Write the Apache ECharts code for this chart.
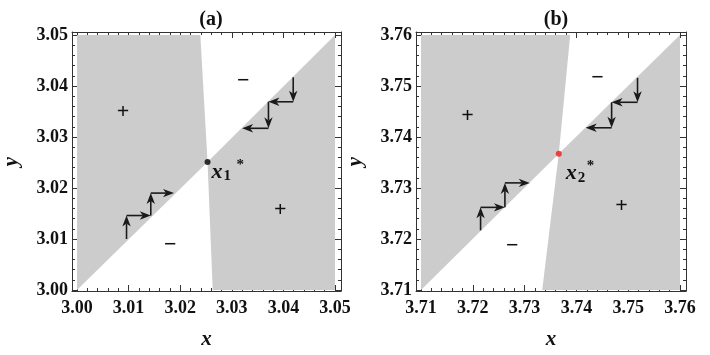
<!DOCTYPE html>
<html>
<head>
<meta charset="utf-8">
<script src="https://cdn.jsdelivr.net/npm/echarts@6/dist/echarts.min.js"></script>
<style>
  html, body { margin: 0; padding: 0; background: #fff; }
  #chart { width: 710px; height: 355px; }
</style>
</head>
<body>
<div id="chart"></div>
<script>
  // tick labels
  const ticksA = [3.00, 3.01, 3.02, 3.03, 3.04, 3.05];
  const ticksB = [3.71, 3.72, 3.73, 3.74, 3.75, 3.76];

  // shaded regions, polygon vertices [x, y]
  const regionA1 = [[3.00, 3.00], [3.00, 3.05], [3.0239, 3.05], [3.0253, 3.0251]];
  const regionA2 = [[3.0253, 3.0251], [3.05, 3.05], [3.05, 3.00], [3.0263, 3.00]];
  const regionB1 = [[3.71, 3.71], [3.71, 3.76], [3.7388, 3.76], [3.7366, 3.7367]];
  const regionB2 = [[3.7366, 3.7367], [3.76, 3.76], [3.76, 3.71], [3.7334, 3.71]];

  // cobweb arrows [x0, y0, x1, y1]
  const arrowsA = [
    [3.0096, 3.0100, 3.0096, 3.0146],
    [3.0096, 3.0146, 3.0143, 3.0146],
    [3.0143, 3.0146, 3.0143, 3.0190],
    [3.0143, 3.0190, 3.0188, 3.0190],
    [3.0419, 3.0417, 3.0419, 3.0369],
    [3.0419, 3.0369, 3.0371, 3.0369],
    [3.0371, 3.0369, 3.0371, 3.0317],
    [3.0371, 3.0317, 3.0320, 3.0317],
  ];
  const arrowsB = [
    [3.7215, 3.7217, 3.7215, 3.7262],
    [3.7215, 3.7262, 3.7262, 3.7262],
    [3.7262, 3.7262, 3.7262, 3.7310],
    [3.7262, 3.7310, 3.7310, 3.7310],
    [3.7518, 3.7516, 3.7518, 3.7468],
    [3.7518, 3.7468, 3.7468, 3.7468],
    [3.7468, 3.7468, 3.7468, 3.7418],
    [3.7468, 3.7418, 3.7418, 3.7418],
  ];

  // sign markers [x, y, text]
  const signsA = [[3.0089, 3.0349, "+"], [3.0322, 3.0410, "−"], [3.0181, 3.0087, "−"], [3.0394, 3.0156, "+"]];
  const signsB = [[3.7190, 3.7440, "+"], [3.7441, 3.7515, "−"], [3.7276, 3.7185, "−"], [3.7487, 3.7265, "+"]];

  // fixed points
  const fixA = [3.0253, 3.0251];
  const fixB = [3.7366, 3.7367];

  const FONT = "'Liberation Serif', 'DejaVu Serif', serif";
  const frameColor = "#333";
  const gray = "#cccccc";
  const gridW = 270, gridH = 264, gridTop = 32;
  const pad = { l: 5, r: 6, t: 3, b: 1 };

  const panels = [
    { ticks: ticksA, regions: [regionA1, regionA2], arrows: arrowsA, signs: signsA, fix: fixA,
      fixColor: "#000", title: "(a)", sub: "1", left: 71, lab: { x: 4, y: 10, sx: 16, sy: 14, ax: 29, ay: 3 } },
    { ticks: ticksB, regions: [regionB1, regionB2], arrows: arrowsB, signs: signsB, fix: fixB,
      fixColor: "#ee1c1c", title: "(b)", sub: "2", left: 416, lab: { x: 7, y: 20, sx: 19, sy: 24, ax: 28, ay: 12 } },
  ];

  const minorOf = ticks => {
    const out = [];
    for (let i = 0; i < ticks.length - 1; i++) {
      const step = (ticks[i + 1] - ticks[i]) / 5;
      for (let k = 1; k < 5; k++) out.push(+(ticks[i] + k * step).toFixed(5));
    }
    return out;
  };

  const extentOf = (ticks, dim) => {
    const span = ticks[ticks.length - 1] - ticks[0];
    if (dim === "x") {
      const pp = span / (gridW - pad.l - pad.r);
      return [ticks[0] - pad.l * pp, ticks[ticks.length - 1] + pad.r * pp];
    }
    const pp = span / (gridH - pad.t - pad.b);
    return [ticks[0] - pad.b * pp, ticks[ticks.length - 1] + pad.t * pp];
  };

  const makeAxes = (dim, g, p) => {
    const ext = extentOf(p.ticks, dim);
    const minor = minorOf(p.ticks);
    const sides = dim === "x" ? ["bottom", "top"] : ["left", "right"];
    const list = [];
    sides.forEach((pos, i) => {
      list.push({
        type: "value",
        gridIndex: g,
        position: pos,
        min: ext[0],
        max: ext[1],
        axisLine: { show: true, onZero: false, lineStyle: { color: frameColor, width: 1 } },
        axisTick: { show: true, inside: true, length: 6, customValues: p.ticks, lineStyle: { color: frameColor } },
        axisLabel: i === 0 ? {
          show: true,
          customValues: p.ticks,
          formatter: v => (+v).toFixed(2),
          fontFamily: FONT,
          fontWeight: "bold",
          fontSize: 18,
          color: "#111",
          margin: dim === "x" ? 8 : 4,
        } : { show: false },
        splitLine: { show: false },
        name: i === 0 ? dim : "",
        nameLocation: "middle",
        nameGap: dim === "x" ? 38 : 50,
        nameTextStyle: { fontFamily: FONT, fontStyle: "italic", fontWeight: "bold", fontSize: 21, color: "#111" },
      });
      // minor ticks
      list.push({
        type: "value",
        gridIndex: g,
        position: pos,
        min: ext[0],
        max: ext[1],
        axisLine: { show: false, onZero: false },
        axisTick: { show: true, inside: true, length: 3, customValues: minor, lineStyle: { color: frameColor } },
        axisLabel: { show: false },
        splitLine: { show: false },
      });
    });
    return list;
  };

  const grids = [], xAxes = [], yAxes = [], series = [], titles = [];

  panels.forEach((p, g) => {
    grids.push({ left: p.left, top: gridTop, width: gridW, height: gridH });
    xAxes.push(...makeAxes("x", g, p));
    yAxes.push(...makeAxes("y", g, p));
    titles.push({
      text: p.title,
      left: p.left + gridW / 2,
      top: 5,
      textAlign: "center",
      textStyle: { fontFamily: FONT, fontWeight: "bold", fontSize: 20, color: "#111" },
    });
    const ax = { xAxisIndex: g * 4, yAxisIndex: g * 4 };

    p.regions.forEach(poly => {
      series.push({
        type: "custom", ...ax, silent: true, z: 1,
        data: poly,
        renderItem: (params, api) => {
          if (params.dataIndex !== 0) return null;
          return { type: "polygon", shape: { points: poly.map(pt => api.coord(pt)) }, style: { fill: gray } };
        },
      });
    });

    series.push({
      type: "custom", ...ax, silent: true, z: 3,
      data: p.arrows,
      encode: { x: [0, 2], y: [1, 3] },
      renderItem: (params, api) => {
        const a = api.coord([api.value(0), api.value(1)]);
        const b = api.coord([api.value(2), api.value(3)]);
        const ang = Math.atan2(b[1] - a[1], b[0] - a[0]);
        const c = Math.cos(ang), s = Math.sin(ang);
        const L = 11, W = 4.2;
        const base = [b[0] - L * c, b[1] - L * s];
        const notch = [b[0] - L * 0.72 * c, b[1] - L * 0.72 * s];
        return {
          type: "group",
          children: [
            { type: "line", shape: { x1: a[0], y1: a[1], x2: notch[0], y2: notch[1] },
              style: { stroke: "#1a1a1a", lineWidth: 1.6 } },
            { type: "polygon",
              shape: { points: [b, [base[0] - s * W, base[1] + c * W], notch, [base[0] + s * W, base[1] - c * W]] },
              style: { fill: "#1a1a1a" } },
          ],
        };
      },
    });

    series.push({
      type: "custom", ...ax, silent: true, z: 3,
      data: p.signs.map(sg => [sg[0], sg[1]]),
      renderItem: (params, api) => {
        const pt = api.coord([api.value(0), api.value(1)]);
        return {
          type: "text", x: pt[0], y: pt[1],
          style: { text: p.signs[params.dataIndex][2], font: "bold 22px " + FONT, fill: "#111", align: "center", verticalAlign: "middle" },
        };
      },
    });

    series.push({
      type: "scatter", ...ax, silent: true, z: 4,
      data: [p.fix],
      symbolSize: 6,
      itemStyle: { color: p.fixColor },
    });

    series.push({
      type: "custom", ...ax, silent: true, z: 4,
      data: [p.fix],
      renderItem: (params, api) => {
        const pt = api.coord([api.value(0), api.value(1)]);
        const o = p.lab;
        return {
          type: "group", x: pt[0], y: pt[1],
          children: [
            { type: "text", style: { text: "x", x: o.x, y: o.y, font: "italic bold 22px " + FONT, fill: "#111", verticalAlign: "middle" } },
            { type: "text", style: { text: p.sub, x: o.sx, y: o.sy, font: "bold 15px " + FONT, fill: "#111", verticalAlign: "middle" } },
            { type: "text", style: { text: "*", x: o.ax, y: o.ay, font: "bold 15px " + FONT, fill: "#111", verticalAlign: "middle" } },
          ],
        };
      },
    });
  });

  const chart = echarts.init(document.getElementById("chart"));
  chart.setOption({
    animation: false,
    backgroundColor: "#fff",
    title: titles,
    grid: grids,
    xAxis: xAxes,
    yAxis: yAxes,
    series: series,
  });
</script>
</body>
</html>
